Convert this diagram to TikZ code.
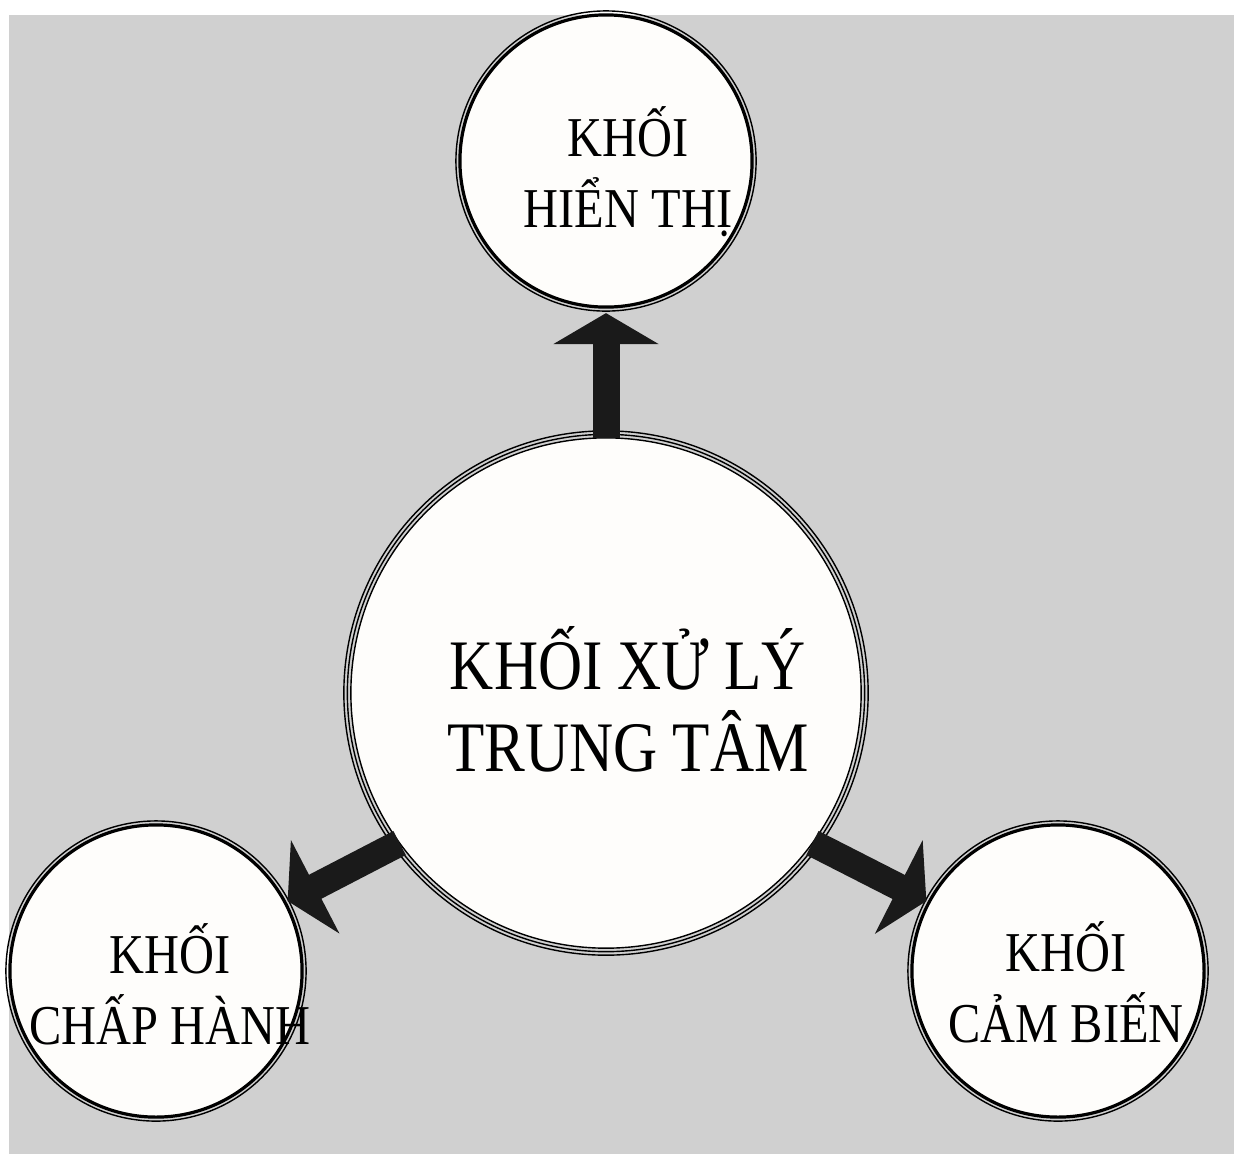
\documentclass[tikz,border=0pt]{standalone}
\usepackage{fontspec}
\setmainfont{Liberation Serif}[FakeStretch=0.86]
\usepackage{xcolor}
\usepackage{tikz}
\usetikzlibrary{arrows.meta,positioning,calc}
\definecolor{panelgray}{RGB}{208, 208, 208}
\definecolor{arrowblack}{RGB}{26, 26, 26}
\definecolor{discwhite}{RGB}{254, 253, 251}

\begin{document}
\begin{tikzpicture}[x=0.01cm, y=-0.01cm,
    disc/.style={circle, draw=black, fill=discwhite, line width=0.032cm, minimum size=2.92cm, inner sep=0pt, outer sep=0pt},
    hub/.style={circle, draw=black, fill=discwhite, line width=0.4pt, minimum size=5.1cm, inner sep=0pt, outer sep=0pt},
    ring/.style={draw=black, line width=0.4pt},
    small/.style={align=center, font=\fontsize{16}{20.2}\selectfont},
    big/.style={align=center, font=\fontsize{20.2}{23.3}\selectfont},
    flow/.style={draw=arrowblack, line width=0.27cm, -{Triangle[width=1.04cm, length=0.31cm]}}
]
    % Background panel
    \useasboundingbox (0,0) rectangle (1234,1154);
    \fill[panelgray] (9,15) rectangle (1234,1154);

    % Central processing block
    \node[hub] (cpu) at (606,693) {};
    \draw[ring] (cpu.center) circle[radius=2.585cm];
    \draw[ring] (cpu.center) circle[radius=2.62cm];
    \node[big] (cputext) at (628,699) {KHỐI XỬ LÝ\\TRUNG TÂM};

    % Display block
    \node[disc] (display) at (606,161) {};
    \draw[ring] (display.center) circle[radius=1.5cm];
    \node[small] (displaytext) at (628,172) {KHỐI\\HIỂN THỊ};

    % Actuator block
    \node[disc] (actuator) at (156,971) {};
    \draw[ring] (actuator.center) circle[radius=1.5cm];
    \node[small] (actuatortext) at (170,984) {KHỐI\\CHẤP HÀNH};

    % Sensor block
    \node[disc] (sensor) at (1058,971) {};
    \draw[ring] (sensor.center) circle[radius=1.5cm];
    \node[small] (sensortext) at (1066,982) {KHỐI\\CẢM BIẾN};

    % Arrows
    \draw[flow, shorten >=0.06cm] (cpu.north) -- (display.south);
    \draw[flow, shorten >=0.03cm] (cpu.216) -- (actuator.28);
    \draw[flow, shorten >=0.03cm] (cpu.324) -- (sensor.152);
\end{tikzpicture}
\end{document}
